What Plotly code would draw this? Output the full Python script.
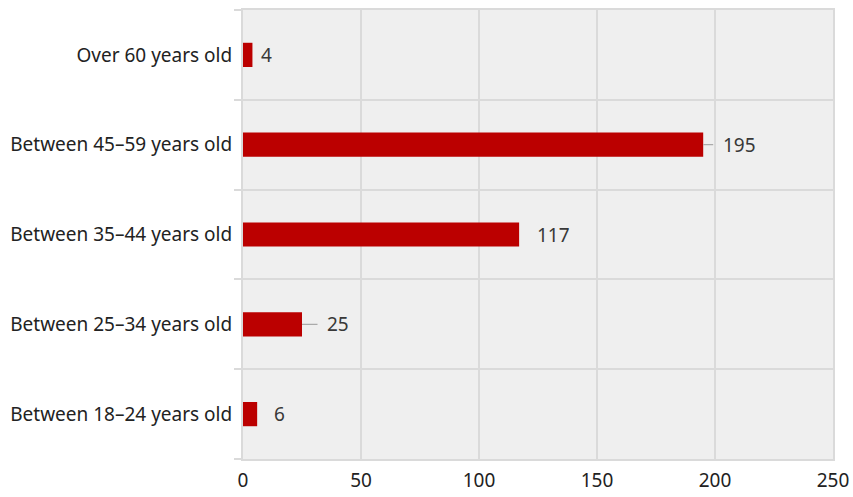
import plotly.graph_objects as go

# Age bands (bottom to top) and counts
categories = [
    "Between 18–24 years old",
    "Between 25–34 years old",
    "Between 35–44 years old",
    "Between 45–59 years old",
    "Over 60 years old",
]
counts = [6, 25, 117, 195, 4]
# Which value labels get a short leader line back to the bar
leader = [False, True, False, True, False]
x_ticks = [0, 50, 100, 150, 200, 250]

BAR_RED = "#bb0000"
GRID = "#dadada"
FONT = "Noto Sans"
# Pixel gap between a bar end and its plain value label
LABEL_GAP = {6: 15, 117: 16, 4: 7}

fig = go.Figure()
fig.add_trace(go.Bar(
    x=counts,
    y=categories,
    orientation="h",
    marker=dict(color=BAR_RED, line=dict(width=0)),
    width=0.27,
    hoverinfo="x+y",
))

# Value labels to the right of each bar
for cat, val, lead in zip(categories, counts, leader):
    if lead:
        fig.add_annotation(
            x=val, y=cat, text=str(val),
            showarrow=True, arrowhead=0, arrowwidth=1.2, arrowcolor="#aaaaaa",
            ax=36, ay=0, xanchor="center", startstandoff=8,
            font=dict(family=FONT, size=19, color="#383838"),
        )
    else:
        fig.add_annotation(
            x=val, y=cat, text=str(val),
            showarrow=False, xanchor="left", xshift=LABEL_GAP.get(val, 10),
            font=dict(family=FONT, size=19, color="#383838"),
        )

fig.update_layout(
    width=853, height=497,
    margin=dict(l=243, r=20, t=10, b=38, autoexpand=False),
    paper_bgcolor="white",
    plot_bgcolor="#efefef",
    showlegend=False,
    bargap=0.7,
    font=dict(family=FONT, size=19, color="#222222"),
    xaxis=dict(
        range=[0, 250],
        tickvals=x_ticks,
        showgrid=True, gridcolor=GRID, gridwidth=2,
        zeroline=False,
        showline=True, linecolor=GRID, linewidth=2, mirror=True,
        ticks="", ticklabelstandoff=3,
        automargin=False,
        tickfont=dict(family=FONT, size=19, color="#222222"),
        fixedrange=True,
    ),
    yaxis=dict(
        type="category",
        categoryorder="array", categoryarray=categories,
        tickson="boundaries",
        showgrid=True, gridcolor=GRID, gridwidth=2,
        showline=True, linecolor=GRID, linewidth=2, mirror=True,
        ticks="outside", ticklen=7, tickcolor=GRID, tickwidth=2,
        ticklabelstandoff=5,
        automargin=False,
        tickfont=dict(family=FONT, size=19, color="#222222"),
        fixedrange=True,
    ),
)

fig.write_html("out.html")
